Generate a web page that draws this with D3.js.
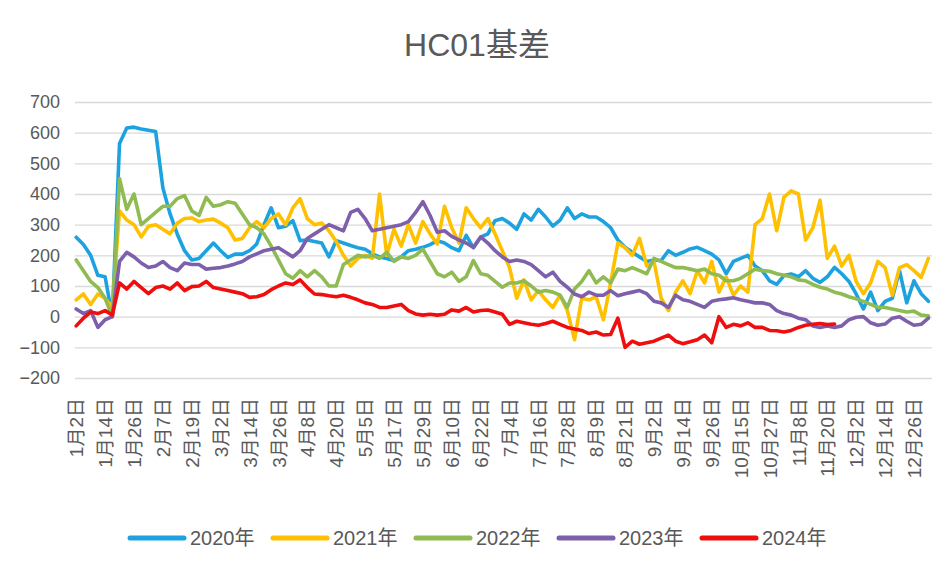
<!DOCTYPE html>
<html lang="zh">
  <head>
    <meta charset="UTF-8" />
    <title>HC01基差</title>
    <style>
      body { margin: 0; background: #fff; }
      text { font-family: "Liberation Sans", "Noto Sans CJK SC", sans-serif; fill: #595959; }
      .grid line { stroke: #d9d9d9; stroke-width: 1.3px; }
    </style>
  </head>

  <body>
    <div id="chart"></div>

    <script src="https://cdn.jsdelivr.net/npm/d3@7/dist/d3.min.js"></script>
    <script>
    // category axis: trading days (MM-DD) pooled across years, label every 12th
    var categoryCount = 356;
    var tickEvery = 12;
    var tickLabels = ["1月2日", "1月14日", "1月26日", "2月7日", "2月19日", "3月2日", "3月14日", "3月26日",
      "4月8日", "4月20日", "5月5日", "5月17日", "5月29日", "6月10日", "6月22日", "7月4日", "7月16日",
      "7月28日", "8月9日", "8月21日", "9月2日", "9月14日", "9月26日", "10月15日", "10月27日", "11月8日",
      "11月20日", "12月2日", "12月14日", "12月26日"];
    var yTicks = [-200, -100, 0, 100, 200, 300, 400, 500, 600, 700];

    // values, one per 3 categories
    var sampleStep = 3;
    var years = ["2020年", "2021年", "2022年", "2023年", "2024年"];
    var colors = ["#1ca3df", "#ffc000", "#8fbb52", "#7d5fab", "#f00d0d"];

    var basis2020 = [259, 235, 200, 135, 130, 0, 565, 615, 618, 612, 608, 604, 420, 335, 269, 215, 185, 190, 215, 240, 215,
      193, 204, 204, 215, 237, 300, 355, 290, 295, 313, 248, 250, 245, 240, 195, 248, 240, 232, 225, 220,
      205, 195, 190, 183, 195, 215, 220, 226, 235, 248, 240, 225, 215, 265, 225, 259, 270, 313, 320, 305,
      285, 335, 315, 350, 325, 295, 315, 355, 320, 335, 325, 325, 310, 290, 250, 226, 210, 195, 180, 185,
      183, 215, 200, 210, 221, 226, 215, 204, 185, 140, 180, 190, 200, 165, 150, 117, 105, 134, 139, 130,
      150, 125, 112, 130, 161, 140, 115, 74, 25, 80, 20, 50, 60, 150, 45, 117, 75, 50];
    var basis2021 = [55, 74, 40, 74, 60, 30, 345, 315, 300, 260, 295, 300, 285, 270, 305, 320, 322, 310, 315, 318, 305,
      290, 250, 255, 290, 310, 290, 320, 335, 300, 355, 385, 320, 300, 305, 280, 245, 200, 165, 190, 200,
      190, 400, 200, 285, 230, 300, 240, 310, 270, 237, 360, 290, 240, 355, 320, 290, 320, 270, 215, 160,
      60, 120, 55, 85, 55, 30, 70, 20, -75, 60, 55, 65, -10, 110, 240, 225, 200, 255, 165, 180,
      60, 20, 80, 117, 75, 150, 110, 180, 80, 130, 70, 100, 80, 300, 320, 400, 280, 390, 410, 400,
      250, 290, 380, 190, 230, 165, 200, 115, 75, 110, 180, 160, 70, 160, 170, 150, 128, 190];
    var basis2022 = [185, 150, 115, 95, 60, 0, 450, 350, 400, 300, 320, 340, 360, 360, 385, 395, 345, 330, 389, 360, 365,
      375, 370, 335, 300, 290, 270, 230, 185, 140, 125, 150, 130, 150, 130, 100, 100, 170, 185, 200, 195,
      200, 190, 210, 180, 195, 190, 200, 220, 180, 140, 130, 145, 115, 130, 183, 140, 135, 115, 96, 110,
      110, 117, 100, 80, 85, 80, 70, 30, 90, 115, 150, 110, 130, 110, 155, 150, 160, 150, 140, 190,
      180, 170, 160, 160, 155, 150, 155, 140, 135, 117, 117, 125, 140, 155, 150, 148, 140, 135, 130, 120,
      117, 105, 96, 90, 80, 74, 65, 58, 50, 40, 30, 30, 25, 20, 15, 18, 5, 3];
    var basis2023 = [25, 10, 20, -35, -10, 0, 180, 210, 195, 175, 160, 165, 180, 160, 150, 175, 170, 170, 155, 158, 160,
      165, 172, 180, 195, 205, 215, 220, 225, 210, 195, 215, 255, 270, 285, 300, 290, 280, 340, 350, 320,
      280, 285, 290, 295, 300, 310, 340, 375, 330, 275, 280, 262, 250, 240, 226, 260, 240, 215, 195, 180,
      185, 180, 170, 150, 130, 145, 115, 96, 74, 65, 80, 70, 70, 85, 68, 75, 80, 85, 75, 50,
      45, 30, 70, 55, 50, 40, 30, 50, 55, 58, 62, 55, 50, 45, 45, 40, 20, 10, 5, -5,
      -10, -30, -35, -30, -35, -30, -10, -2, 0, -20, -28, -24, -5, 0, -15, -28, -25, -5];
    var basis2024 = [-30, -5, 15, 10, 20, 5, 110, 90, 115, 95, 75, 95, 100, 90, 110, 85, 98, 100, 115, 95, 90,
      85, 80, 75, 63, 65, 72, 88, 100, 110, 105, 120, 95, 74, 72, 68, 65, 70, 63, 55, 45,
      40, 30, 30, 35, 40, 20, 9, 5, 8, 5, 8, 22, 18, 30, 15, 20, 22, 15, 8, -25,
      -15, -20, -25, -28, -22, -15, -25, -35, -40, -45, -55, -50, -60, -58, -5, -100, -80, -90, -85, -80,
      -70, -60, -80, -88, -82, -75, -60, -85, 0, -35, -25, -30, -20, -35, -35, -45, -46, -50, -45, -35,
      -28, -25, -22, -26, -24];

    var seriesValues = [basis2020, basis2021, basis2022, basis2023, basis2024];

    var width = 951;
    var height = 569;
    var margin = { top: 102, right: 19, bottom: 191, left: 75 };

    var svg = d3.select("#chart").append("svg")
      .attr("width", width)
      .attr("height", height);

    svg.append("rect")
      .attr("width", width)
      .attr("height", height)
      .attr("fill", "#fff");

    var x = d3.scaleLinear()
      .domain([-0.5, categoryCount - 0.5])
      .range([margin.left, width - margin.right]);

    var y = d3.scaleLinear()
      .domain([-200, 700])
      .range([height - margin.bottom, margin.top]);

    //title
    svg.append("text")
      .text("HC01基差")
      .attr("x", 477)
      .attr("y", 56)
      .attr("text-anchor", "middle")
      .attr("font-size", "32px");

    // y axis with gridlines
    var yAxis = svg.append("g")
      .attr("class", "grid")
      .attr("transform", "translate(" + margin.left + ",0)")
      .call(d3.axisLeft(y)
        .tickValues(yTicks)
        .tickSize(-(width - margin.left - margin.right))
        .tickPadding(15));
    yAxis.select(".domain").remove();
    yAxis.selectAll("text")
      .attr("font-size", "18px")
      .style("fill", "#595959");

    // x axis, labels rotated
    var xTickValues = tickLabels.map(function(d, i) { return i * tickEvery; });
    var xAxis = svg.append("g")
      .attr("transform", "translate(0," + (height - margin.bottom) + ")")
      .call(d3.axisBottom(x)
        .tickValues(xTickValues)
        .tickSize(0)
        .tickFormat(function(d, i) { return tickLabels[i]; }));
    xAxis.select(".domain").remove();
    xAxis.selectAll("text")
      .attr("transform", "rotate(-90)")
      .attr("x", -20)
      .attr("y", 0)
      .attr("dy", "0.35em")
      .attr("font-size", "19px")
      .style("text-anchor", "end")
      .style("fill", "#595959");

    var line = d3.line()
      .x(function(d, k) { return x(k * sampleStep); })
      .y(function(d) { return y(d); });

    svg.selectAll(".series")
      .data(seriesValues)
      .enter()
      .append("path")
      .attr("class", "series")
      .attr("d", line)
      .attr("fill", "none")
      .attr("stroke", function(d, i) { return colors[i]; })
      .attr("stroke-width", 3.6)
      .attr("stroke-linejoin", "round")
      .attr("stroke-linecap", "round");

    // legend
    var legend = svg.append("g")
      .attr("transform", "translate(130,538)");
    var item = legend.selectAll("g")
      .data(years)
      .enter()
      .append("g")
      .attr("transform", function(d, i) { return "translate(" + (i * 143) + ",0)"; });
    item.append("line")
      .attr("x1", 0)
      .attr("x2", 54)
      .attr("stroke", function(d, i) { return colors[i]; })
      .attr("stroke-width", 5)
      .attr("stroke-linecap", "round");
    item.append("text")
      .text(function(d) { return d; })
      .attr("x", 60)
      .attr("dy", "0.35em")
      .attr("font-size", "20px");
    </script>
  </body>
</html>
